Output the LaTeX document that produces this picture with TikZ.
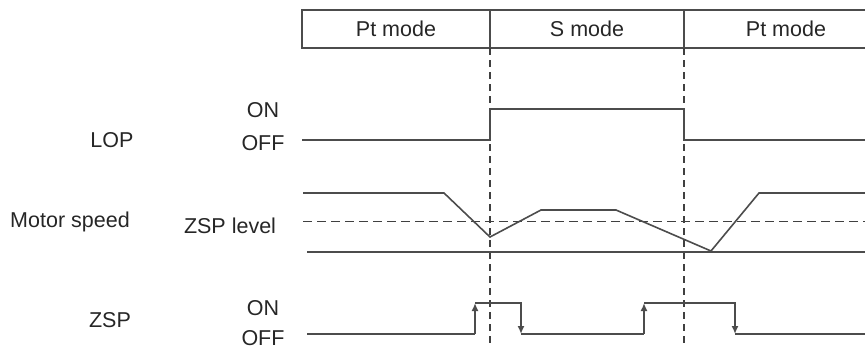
\documentclass[tikz,border=0pt]{standalone}
\usepackage{fontspec}
\setmainfont{Liberation Sans}
\usepackage{tikz}
\usetikzlibrary{positioning,arrows.meta}
\tikzset{
  wave/.style={line width=1.6pt, draw=black!70},
  guide/.style={line width=1.6pt, draw=black!75, dash pattern=on 7pt off 5pt},
  levelline/.style={line width=1.6pt, draw=black!75, dash pattern=on 9pt off 5pt},
  sigtext/.style={font=\fontsize{21.5}{25}\selectfont, text=black!85, inner sep=0pt},
  edgetip/.style={-{Latex[length=8pt 0, width=7pt 0]}}
}

\begin{document}
\begin{tikzpicture}[x=1pt, y=-1pt]
  \useasboundingbox (0,0) rectangle (865,351);
  \begin{scope}
    \clip (0,0) rectangle (865,351);
    \draw[wave] (302,10) rectangle (900,48);
    \draw[wave] (490,10) -- (490,48);
    \draw[wave] (684,10) -- (684,48);
    \node[sigtext] (ptleft) at (396,29) {Pt mode};
    \node[sigtext] (smode) at (587,29) {S mode};
    \node[sigtext] (ptright) at (786,29) {Pt mode};
    \draw[guide] (490,48) -- (490,345);
    \draw[guide] (684,48) -- (684,345);
    % LOP
    \draw[wave] (302,140) -- (490,140) -- (490,109) -- (684,109) -- (684,140) -- (870,140);
    % motor speed
    \draw[levelline] (303,221.5) -- (870,221.5);
    \draw[wave] (307,252) -- (870,252);
    \draw[wave] (303,193) -- (444,193) -- (490,237) -- (541,210) -- (616,210) -- (711,251) -- (759,193) -- (870,193);
    % ZSP
    \draw[wave] (307,334) -- (475,334);
    \draw[wave, edgetip] (475,334) -- (475,303);
    \draw[wave, edgetip] (475,303) -- (521,303) -- (521,334);
    \draw[wave] (521,334) -- (644,334);
    \draw[wave, edgetip] (644,334) -- (644,303);
    \draw[wave, edgetip] (644,303) -- (735,303) -- (735,334);
    \draw[wave] (735,334) -- (870,334);
  \end{scope}
  \node[sigtext] (lop) at (112,140) {LOP};
  \node[sigtext] (lopon) at (263,110) {ON};
  \node[sigtext] (lopoff) at (263,143) {OFF};
  \node[sigtext] (speed) at (70,222) {Motor speed};
  \node[sigtext] (zsplevel) at (230,226) {ZSP level};
  \node[sigtext] (zsp) at (110,320) {ZSP};
  \node[sigtext] (zspon) at (263,308) {ON};
  \node[sigtext] (zspoff) at (263,338) {OFF};
\end{tikzpicture}
\end{document}
